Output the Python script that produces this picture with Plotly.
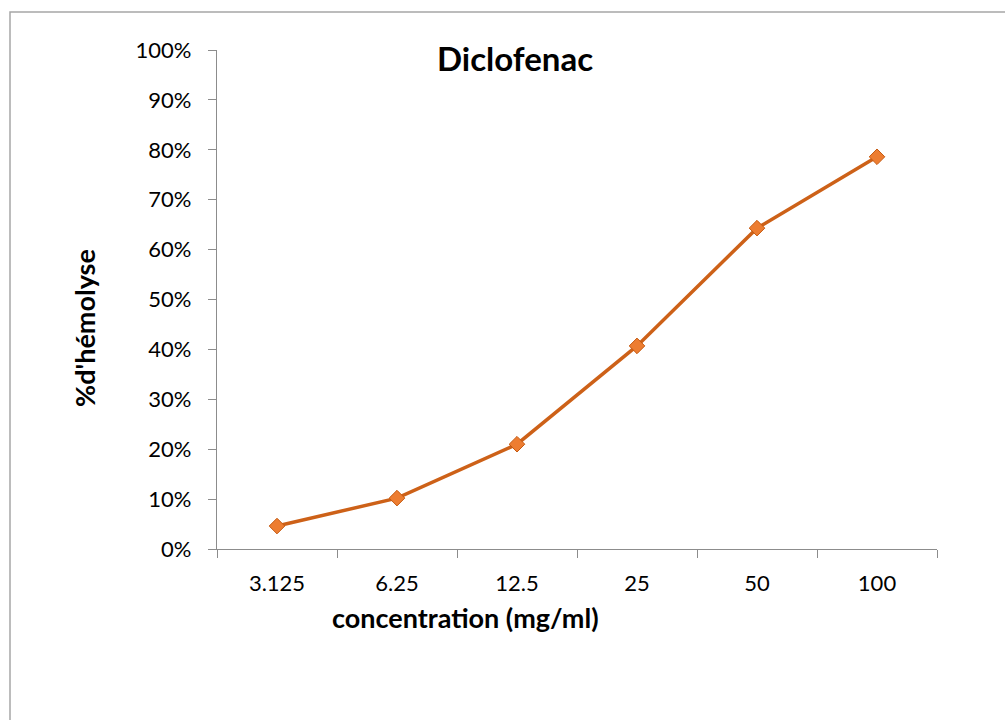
import plotly.graph_objects as go

# Hemolysis (%) of Diclofenac at each tested concentration
concentrations = ["3.125", "6.25", "12.5", "25", "50", "100"]
hemolysis = [0.046, 0.102, 0.210, 0.407, 0.643, 0.786]

y_ticks = [i / 10 for i in range(11)]
y_tick_labels = [f"{i * 10}%" for i in range(11)]

FONT = "Lato, 'Noto Sans', sans-serif"
AXIS_GREY = "#8C8C8C"

W, H = 1005, 720
L, R, T, B = 217, 68, 50, 171
pw, ph = W - L - R, H - T - B


def px_x(px):
    return (px - L) / pw


def px_y(py):
    return (H - B - py) / ph


fig = go.Figure()
fig.add_trace(go.Scatter(
    x=concentrations,
    y=hemolysis,
    mode="lines+markers",
    line=dict(color="#CD6118", width=3.5),
    marker=dict(symbol="diamond", size=12, color="#ED7D31",
                line=dict(color="#C55A11", width=1)),
    showlegend=False,
    cliponaxis=False,
))

fig.update_layout(
    width=W, height=H,
    margin=dict(l=L, r=R, t=T, b=B),
    paper_bgcolor="white",
    plot_bgcolor="white",
    font=dict(family=FONT, size=22, color="black"),
    xaxis=dict(
        type="category",
        tickson="boundaries",
        ticks="outside", ticklen=8, tickcolor=AXIS_GREY, tickwidth=1.3,
        showline=True, linecolor=AXIS_GREY, linewidth=1.3,
        showgrid=False, zeroline=False,
        range=[-0.5, 5.5],
        tickfont=dict(family=FONT, size=22),
        ticklabelstandoff=14,
    ),
    yaxis=dict(
        range=[0, 1],
        tickvals=y_ticks, ticktext=y_tick_labels,
        ticks="outside", ticklen=8, tickcolor=AXIS_GREY, tickwidth=1.3,
        showline=True, linecolor=AXIS_GREY, linewidth=1.3,
        showgrid=False, zeroline=False,
        tickfont=dict(family=FONT, size=22),
        ticklabelstandoff=12,
    ),
    shapes=[dict(
        type="rect", xref="paper", yref="paper",
        x0=px_x(10), x1=px_x(W + 20), y0=px_y(H + 20), y1=px_y(12),
        line=dict(color="#A6A6A6", width=1.5), fillcolor="rgba(0,0,0,0)",
        layer="below",
    )],
    annotations=[
        dict(text="<b>Diclofenac</b>", xref="paper", yref="paper",
             x=px_x(515), y=px_y(58), showarrow=False,
             xanchor="center", yanchor="middle",
             font=dict(family=FONT, size=33, color="black")),
        dict(text="<b>concentration (mg/ml)</b>", xref="paper", yref="paper",
             x=px_x(465), y=px_y(617), showarrow=False,
             xanchor="center", yanchor="middle",
             font=dict(family=FONT, size=27, color="black")),
        dict(text="<b>%d'hémolyse</b>", xref="paper", yref="paper",
             x=px_x(84), y=px_y(328), showarrow=False, textangle=-90,
             xanchor="center", yanchor="middle",
             font=dict(family=FONT, size=27, color="black")),
    ],
)

fig.write_html("out.html")
